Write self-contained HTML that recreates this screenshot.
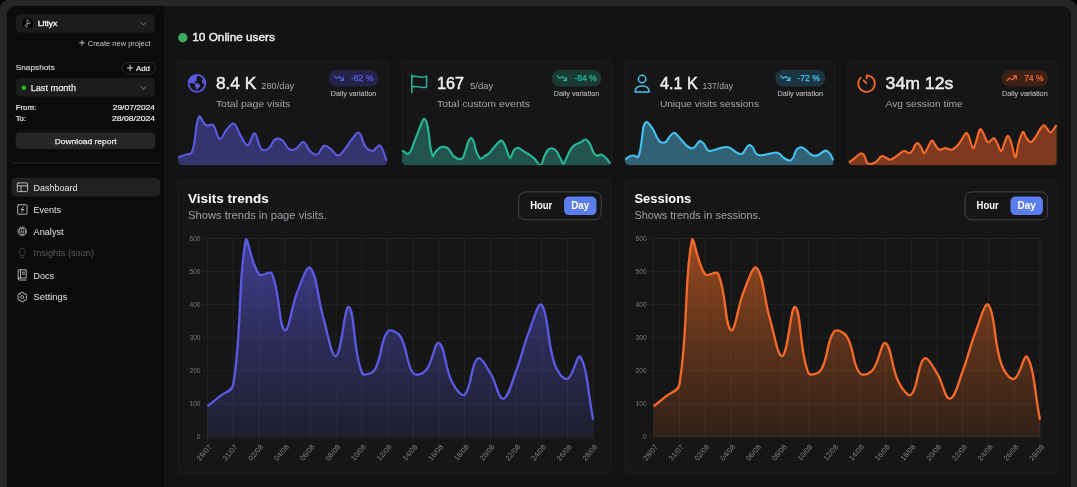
<!DOCTYPE html>
<html><head><meta charset="utf-8"><title>Litlyx Dashboard</title>
<style>
html,body{margin:0;padding:0;background:#000;width:1077px;height:487px;overflow:hidden}
svg{display:block;font-family:"Liberation Sans", sans-serif;will-change:transform}
</style></head><body>
<svg width="1077" height="487" viewBox="0 0 1077 487">
<defs><clipPath id="c0"><rect x="178.1" y="60.7" width="209.8" height="104.4" rx="4.5"/></clipPath><clipPath id="c1"><rect x="402.0" y="60.7" width="209.8" height="104.4" rx="4.5"/></clipPath><clipPath id="c2"><rect x="625.0" y="60.7" width="209.8" height="104.4" rx="4.5"/></clipPath><clipPath id="c3"><rect x="848.0" y="60.7" width="209.8" height="104.4" rx="4.5"/></clipPath></defs>
<path d="M0 7 Q1.5 1.5 7 0 H1070 Q1075.5 1.5 1077 7 V487 H0Z" fill="#262626"/>
<path d="M7 16 Q7 6 17 6 H1061 Q1071 6 1071 16 V487 H7Z" fill="#131313"/>
<path d="M7 16 Q7 6 17 6 H164.1 V487 H7Z" fill="#0b0b0b"/>
<rect x="16" y="14.3" width="138.8" height="18.3" fill="#1c1c1c" rx="4"/>
<circle cx="27.7" cy="23.6" r="5.5" fill="#000"/>
<path d="M27.5 19.5 L30.4 23.3 L27.3 23.5 Z M27.3 23.5 L24.5 25.5 L26.5 27.5 Z" fill="none" stroke="#b8b8b8" stroke-width="0.65" stroke-linecap="round" stroke-linejoin="round"/>
<text x="37.7" y="25.9" font-size="8" fill="#ececec" stroke="#ececec" stroke-width="0.35" textLength="19.7" lengthAdjust="spacingAndGlyphs">Litlyx</text>
<path d="M141.2 22.7 L143.4 25.1 L145.6 22.7" fill="none" stroke="#7b808e" stroke-width="1" stroke-linecap="round" stroke-linejoin="round"/>
<path d="M82 40.5 V45.1 M79.7 42.8 H84.3" fill="none" stroke="#cfcfcf" stroke-width="0.85" stroke-linecap="round" stroke-linejoin="round"/>
<text x="87.8" y="45.5" font-size="7" fill="#c9c9c9" textLength="62.8" lengthAdjust="spacingAndGlyphs">Create new project</text>
<text x="15.7" y="70.3" font-size="7.8" fill="#dcdcdc" stroke="#dcdcdc" stroke-width="0.15" textLength="39.1" lengthAdjust="spacingAndGlyphs">Snapshots</text>
<rect x="122" y="62.4" width="33.5" height="11.6" fill="none" rx="5.8" stroke="#2e2e2e" stroke-width="0.9"/>
<path d="M130.1 65.2 V70.6 M127.4 67.9 H132.8" fill="none" stroke="#e0e0e0" stroke-width="0.9" stroke-linecap="round" stroke-linejoin="round"/>
<text x="135.9" y="70.7" font-size="8" fill="#ececec" stroke="#ececec" stroke-width="0.2" textLength="14.1" lengthAdjust="spacingAndGlyphs">Add</text>
<rect x="16.2" y="78" width="138.9" height="18.6" fill="#1c1c1c" rx="4"/>
<circle cx="23.9" cy="87.7" r="2.3" fill="#19c21b"/>
<text x="30.7" y="91" font-size="9" fill="#e6e6e6" stroke="#e6e6e6" stroke-width="0.25" textLength="45.3" lengthAdjust="spacingAndGlyphs">Last month</text>
<path d="M141.2 86.8 L143.4 89.3 L145.6 86.8" fill="none" stroke="#7b808e" stroke-width="1" stroke-linecap="round" stroke-linejoin="round"/>
<text x="15.7" y="109.7" font-size="8" fill="#ededed" stroke="#ededed" stroke-width="0.2" textLength="20.5" lengthAdjust="spacingAndGlyphs">From:</text>
<text x="155.1" y="109.7" font-size="8" fill="#ededed" stroke="#ededed" stroke-width="0.2" textLength="42.4" lengthAdjust="spacingAndGlyphs" text-anchor="end">29/07/2024</text>
<text x="15.7" y="120.7" font-size="8" fill="#ededed" stroke="#ededed" stroke-width="0.2" textLength="10.4" lengthAdjust="spacingAndGlyphs">To:</text>
<text x="155.1" y="120.7" font-size="8" fill="#ededed" stroke="#ededed" stroke-width="0.2" textLength="43.1" lengthAdjust="spacingAndGlyphs" text-anchor="end">28/08/2024</text>
<rect x="15.7" y="132.4" width="139.7" height="16.5" fill="#262626" rx="4"/>
<text x="54.7" y="143.5" font-size="8" fill="#e3e3e3" stroke="#e3e3e3" stroke-width="0.25" textLength="61.9" lengthAdjust="spacingAndGlyphs">Download report</text>
<rect x="11.1" y="162" width="148.6" height="1.8" fill="#1a1a1a"/>
<rect x="11.4" y="177.4" width="148.6" height="19.2" fill="#212121" rx="5"/>
<text x="33.6" y="190.9" font-size="9.4" fill="#e6e6e6" textLength="43.9" lengthAdjust="spacingAndGlyphs">Dashboard</text>
<text x="33.6" y="212.7" font-size="9.4" fill="#e6e6e6" textLength="27.4" lengthAdjust="spacingAndGlyphs">Events</text>
<text x="33.6" y="234.5" font-size="9.4" fill="#e6e6e6" textLength="30" lengthAdjust="spacingAndGlyphs">Analyst</text>
<text x="33.6" y="256.3" font-size="9.4" fill="#5c5c5c" textLength="60.4" lengthAdjust="spacingAndGlyphs">Insights (soon)</text>
<text x="33.6" y="278.6" font-size="9.4" fill="#e6e6e6" textLength="20.4" lengthAdjust="spacingAndGlyphs">Docs</text>
<text x="33.6" y="300.4" font-size="9.4" fill="#e6e6e6" textLength="33.8" lengthAdjust="spacingAndGlyphs">Settings</text>
<path d="M18.2 182.9 h8.4 a0.9 0.9 0 0 1 0.9 0.9 v6.9 a0.9 0.9 0 0 1 -0.9 0.9 h-8.4 a0.9 0.9 0 0 1 -0.9 -0.9 v-6.9 a0.9 0.9 0 0 1 0.9 -0.9z M17.3 185.9 H27.5 M21 185.9 V191.6" fill="none" stroke="#cfcfcf" stroke-width="0.85" stroke-linecap="round" stroke-linejoin="round"/>
<path d="M18.6 204.8 h7.6 a0.9 0.9 0 0 1 0.9 0.9 v7.6 a0.9 0.9 0 0 1 -0.9 0.9 h-7.6 a0.9 0.9 0 0 1 -0.9 -0.9 v-7.6 a0.9 0.9 0 0 1 0.9 -0.9z M23.4 206.8 L21 209.6 H23.8 L21.4 212.3" fill="none" stroke="#cfcfcf" stroke-width="0.85" stroke-linecap="round" stroke-linejoin="round"/>
<path d="M19.9 228.3 h4.8 a0.7 0.7 0 0 1 0.7 0.7 v4.8 a0.7 0.7 0 0 1 -0.7 0.7 h-4.8 a0.7 0.7 0 0 1 -0.7 -0.7 v-4.8 a0.7 0.7 0 0 1 0.7 -0.7z M20.8 227 v1.3 M22.3 227 v1.3 M23.8 227 v1.3 M20.8 234.5 v1.3 M22.3 234.5 v1.3 M23.8 234.5 v1.3 M17.9 229.9 h1.3 M17.9 231.4 h1.3 M17.9 232.9 h1.3 M25.4 229.9 h1.3 M25.4 231.4 h1.3 M25.4 232.9 h1.3" fill="none" stroke="#cfcfcf" stroke-width="0.65" stroke-linecap="round" stroke-linejoin="round"/>
<path d="M20.8 233 L21.7 229.7 L22.6 233 M21.1 232 H22.3 M23.6 229.7 V233" fill="none" stroke="#cfcfcf" stroke-width="0.5" stroke-linecap="round" stroke-linejoin="round"/>
<path d="M20.6 254.4 A3.2 3.2 0 1 1 24 254.4 V255.7 H20.6 Z M21 257.5 H23.6" fill="none" stroke="#4a4a4a" stroke-width="0.8" stroke-linecap="round" stroke-linejoin="round"/>
<path d="M18.2 278.6 v-8 a0.8 0.8 0 0 1 0.8 -0.8 h7.2 v8.2 h-7 a1 1 0 0 0 0 2 h7 M20.5 269.8 v8.2 M22.2 272.2 h2.4 M22.2 274.2 h2.4" fill="none" stroke="#cfcfcf" stroke-width="0.85" stroke-linecap="round" stroke-linejoin="round"/>
<path d="M20.13 294.03 L21.12 292.42 L23.28 292.42 L24.27 294.03 L23.82 293.77 L25.71 293.83 L26.79 295.70 L25.89 297.36 L25.89 296.84 L26.79 298.50 L25.71 300.37 L23.82 300.43 L24.27 300.17 L23.28 301.78 L21.12 301.78 L20.13 300.17 L20.58 300.43 L18.69 300.37 L17.61 298.50 L18.51 296.84 L18.51 297.36 L17.61 295.70 L18.69 293.83 L20.58 293.77Z" fill="none" stroke="#cfcfcf" stroke-width="0.8" stroke-linecap="round" stroke-linejoin="round"/>
<circle cx="22.2" cy="297.1" r="1.5" fill="none" stroke="#cfcfcf" stroke-width="0.8"/>
<circle cx="182.8" cy="37.7" r="4.7" fill="#3daa60"/>
<text x="192.3" y="41.3" font-size="11.4" fill="#f2f2f2" stroke="#f2f2f2" stroke-width="0.4" textLength="82.6" lengthAdjust="spacingAndGlyphs">10 Online users</text>
<rect x="178.1" y="60.7" width="209.8" height="104.4" fill="#161616" rx="4.5" stroke="#1f1f1f" stroke-width="1"/>
<rect x="402.0" y="60.7" width="209.8" height="104.4" fill="#161616" rx="4.5" stroke="#1f1f1f" stroke-width="1"/>
<rect x="625.0" y="60.7" width="209.8" height="104.4" fill="#161616" rx="4.5" stroke="#1f1f1f" stroke-width="1"/>
<rect x="848.0" y="60.7" width="209.8" height="104.4" fill="#161616" rx="4.5" stroke="#1f1f1f" stroke-width="1"/>
<path d="M178.1 157.39 C180.88 156.39 182.29 155.94 185.05 154.89 C187.85 153.84 191.05 154.77 192.01 152.15 C196.62 139.47 194.7 124.91 198.96 116.64 C200.26 114.12 202.5 123.14 205.91 125.2 C208.07 126.49 211.14 123.34 212.87 125.03 C216.7 128.8 216.66 137.84 219.82 138.83 C222.22 139.59 223.63 132.82 226.77 129.39 C229.19 126.76 231.54 122.67 233.73 123.66 C237.1 125.19 237.66 131.03 240.68 135.69 C243.23 139.62 245.08 145.59 247.63 145.13 C250.64 144.59 252.13 132.47 254.59 133.18 C257.69 134.09 257.57 144.78 261.54 149.16 C263.13 150.92 266.4 150.01 268.49 148.52 C271.97 146.04 271.99 141.27 275.45 139.24 C277.55 138.01 280.27 138.82 282.4 140.37 C285.83 142.86 285.91 147.29 289.35 149.32 C291.47 150.58 293.96 149.84 296.31 148.6 C299.53 146.9 300.75 141.49 303.26 141.98 C306.31 142.58 306.86 148.3 310.21 151.34 C312.42 153.34 314.91 155.47 317.17 154.57 C320.47 153.25 320.84 147.01 324.12 145.77 C326.4 144.91 328.54 147.54 331.07 149.32 C334.1 151.45 335.29 155.63 338.03 155.54 C340.86 155.44 342.48 151.77 344.98 148.84 C348.05 145.25 348.85 142.81 351.93 139.24 C354.41 136.36 356.81 131.52 358.89 132.7 C362.37 134.68 362.1 142.31 365.84 147.15 C367.66 149.5 370.17 151.03 372.79 150.7 C375.73 150.32 377.84 144 379.75 145.37 C383.41 148 383.92 154.57 386.7 160.7 L386.7 165.2 L178.1 165.2Z" fill="#35346e" clip-path="url(#c0)"/>
<path d="M178.1 157.39 C180.88 156.39 182.29 155.94 185.05 154.89 C187.85 153.84 191.05 154.77 192.01 152.15 C196.62 139.47 194.7 124.91 198.96 116.64 C200.26 114.12 202.5 123.14 205.91 125.2 C208.07 126.49 211.14 123.34 212.87 125.03 C216.7 128.8 216.66 137.84 219.82 138.83 C222.22 139.59 223.63 132.82 226.77 129.39 C229.19 126.76 231.54 122.67 233.73 123.66 C237.1 125.19 237.66 131.03 240.68 135.69 C243.23 139.62 245.08 145.59 247.63 145.13 C250.64 144.59 252.13 132.47 254.59 133.18 C257.69 134.09 257.57 144.78 261.54 149.16 C263.13 150.92 266.4 150.01 268.49 148.52 C271.97 146.04 271.99 141.27 275.45 139.24 C277.55 138.01 280.27 138.82 282.4 140.37 C285.83 142.86 285.91 147.29 289.35 149.32 C291.47 150.58 293.96 149.84 296.31 148.6 C299.53 146.9 300.75 141.49 303.26 141.98 C306.31 142.58 306.86 148.3 310.21 151.34 C312.42 153.34 314.91 155.47 317.17 154.57 C320.47 153.25 320.84 147.01 324.12 145.77 C326.4 144.91 328.54 147.54 331.07 149.32 C334.1 151.45 335.29 155.63 338.03 155.54 C340.86 155.44 342.48 151.77 344.98 148.84 C348.05 145.25 348.85 142.81 351.93 139.24 C354.41 136.36 356.81 131.52 358.89 132.7 C362.37 134.68 362.1 142.31 365.84 147.15 C367.66 149.5 370.17 151.03 372.79 150.7 C375.73 150.32 377.84 144 379.75 145.37 C383.41 148 383.92 154.57 386.7 160.7" fill="none" stroke="#5a5ae2" stroke-width="2.1" clip-path="url(#c0)"/>
<path d="M402 150.3 C402.4 150.57 403.43 151.3 404.4 151.9 C405.37 152.5 406.68 154.17 407.8 153.9 C408.92 153.63 410 152.38 411.1 150.3 C412.2 148.22 413.3 144.27 414.4 141.4 C415.5 138.53 416.58 135.97 417.7 133.1 C418.82 130.23 420.02 126.6 421.1 124.2 C422.18 121.8 423.18 118.7 424.2 118.7 C425.22 118.7 426.38 121.25 427.2 124.2 C428.02 127.15 428.55 132.52 429.1 136.4 C429.65 140.28 429.87 144.22 430.5 147.5 C431.13 150.78 432.07 155.37 432.9 156.1 C433.73 156.83 434.42 153.25 435.5 151.9 C436.58 150.55 437.92 148.83 439.4 148 C440.88 147.17 442.83 146.7 444.4 146.9 C445.97 147.1 447.33 147.72 448.8 149.2 C450.27 150.68 451.72 154.23 453.2 155.8 C454.68 157.37 456.57 158.03 457.7 158.6 C458.83 159.17 459.07 159.48 460 159.2 C460.93 158.92 462.28 158.67 463.3 156.9 C464.32 155.13 465.17 151.37 466.1 148.6 C467.03 145.83 468.02 142.05 468.9 140.3 C469.78 138.55 470.57 137.82 471.4 138.1 C472.23 138.38 473.12 139.88 473.9 142 C474.68 144.12 475 148.03 476.1 150.8 C477.2 153.57 479.02 157.77 480.5 158.6 C481.98 159.43 483.52 156.72 485 155.8 C486.48 154.88 487.93 154.48 489.4 153.1 C490.87 151.72 491.87 149.58 493.8 147.5 C495.73 145.42 499.15 140.97 501 140.6 C502.85 140.23 503.42 142.45 504.9 145.3 C506.38 148.15 508.42 156.87 509.9 157.7 C511.38 158.53 512.42 151.97 513.8 150.3 C515.18 148.63 516.53 147.52 518.2 147.7 C519.87 147.88 521.77 150.13 523.8 151.4 C525.83 152.67 528.63 154.12 530.4 155.3 C532.17 156.48 532.72 156.85 534.4 158.5 C536.08 160.15 538.83 165.57 540.5 165.2 C542.17 164.83 543.2 158.8 544.4 156.3 C545.6 153.8 546.4 151.53 547.7 150.2 C549 148.87 550.72 148.12 552.2 148.3 C553.68 148.48 555.22 149.6 556.6 151.3 C557.98 153 559.3 156.45 560.5 158.5 C561.7 160.55 562.6 164.15 563.8 163.6 C565 163.05 566.32 157.88 567.7 155.2 C569.08 152.52 570.63 149.35 572.1 147.5 C573.57 145.65 575.02 145 576.5 144.1 C577.98 143.2 579.52 142.87 581 142.1 C582.48 141.33 583.93 139.25 585.4 139.5 C586.87 139.75 588.5 141.53 589.8 143.6 C591.1 145.67 592.08 149.87 593.2 151.9 C594.32 153.93 595.12 155.33 596.5 155.8 C597.88 156.27 599.83 154.25 601.5 154.7 C603.17 155.15 605.12 157.12 606.5 158.5 C607.88 159.88 609.13 162.17 609.8 163 C610.47 163.83 610.38 163.42 610.5 163.5 L610.5 165.2 L402 165.2Z" fill="#22544d" clip-path="url(#c1)"/>
<path d="M402 150.3 C402.4 150.57 403.43 151.3 404.4 151.9 C405.37 152.5 406.68 154.17 407.8 153.9 C408.92 153.63 410 152.38 411.1 150.3 C412.2 148.22 413.3 144.27 414.4 141.4 C415.5 138.53 416.58 135.97 417.7 133.1 C418.82 130.23 420.02 126.6 421.1 124.2 C422.18 121.8 423.18 118.7 424.2 118.7 C425.22 118.7 426.38 121.25 427.2 124.2 C428.02 127.15 428.55 132.52 429.1 136.4 C429.65 140.28 429.87 144.22 430.5 147.5 C431.13 150.78 432.07 155.37 432.9 156.1 C433.73 156.83 434.42 153.25 435.5 151.9 C436.58 150.55 437.92 148.83 439.4 148 C440.88 147.17 442.83 146.7 444.4 146.9 C445.97 147.1 447.33 147.72 448.8 149.2 C450.27 150.68 451.72 154.23 453.2 155.8 C454.68 157.37 456.57 158.03 457.7 158.6 C458.83 159.17 459.07 159.48 460 159.2 C460.93 158.92 462.28 158.67 463.3 156.9 C464.32 155.13 465.17 151.37 466.1 148.6 C467.03 145.83 468.02 142.05 468.9 140.3 C469.78 138.55 470.57 137.82 471.4 138.1 C472.23 138.38 473.12 139.88 473.9 142 C474.68 144.12 475 148.03 476.1 150.8 C477.2 153.57 479.02 157.77 480.5 158.6 C481.98 159.43 483.52 156.72 485 155.8 C486.48 154.88 487.93 154.48 489.4 153.1 C490.87 151.72 491.87 149.58 493.8 147.5 C495.73 145.42 499.15 140.97 501 140.6 C502.85 140.23 503.42 142.45 504.9 145.3 C506.38 148.15 508.42 156.87 509.9 157.7 C511.38 158.53 512.42 151.97 513.8 150.3 C515.18 148.63 516.53 147.52 518.2 147.7 C519.87 147.88 521.77 150.13 523.8 151.4 C525.83 152.67 528.63 154.12 530.4 155.3 C532.17 156.48 532.72 156.85 534.4 158.5 C536.08 160.15 538.83 165.57 540.5 165.2 C542.17 164.83 543.2 158.8 544.4 156.3 C545.6 153.8 546.4 151.53 547.7 150.2 C549 148.87 550.72 148.12 552.2 148.3 C553.68 148.48 555.22 149.6 556.6 151.3 C557.98 153 559.3 156.45 560.5 158.5 C561.7 160.55 562.6 164.15 563.8 163.6 C565 163.05 566.32 157.88 567.7 155.2 C569.08 152.52 570.63 149.35 572.1 147.5 C573.57 145.65 575.02 145 576.5 144.1 C577.98 143.2 579.52 142.87 581 142.1 C582.48 141.33 583.93 139.25 585.4 139.5 C586.87 139.75 588.5 141.53 589.8 143.6 C591.1 145.67 592.08 149.87 593.2 151.9 C594.32 153.93 595.12 155.33 596.5 155.8 C597.88 156.27 599.83 154.25 601.5 154.7 C603.17 155.15 605.12 157.12 606.5 158.5 C607.88 159.88 609.13 162.17 609.8 163 C610.47 163.83 610.38 163.42 610.5 163.5" fill="none" stroke="#26b89b" stroke-width="2.1" clip-path="url(#c1)"/>
<path d="M625.1 159.7 C625.7 159.23 627.47 157.6 628.7 156.9 C629.93 156.2 631.3 155.58 632.5 155.5 C633.7 155.42 634.97 156.17 635.9 156.4 C636.83 156.63 637.37 158.02 638.1 156.9 C638.83 155.78 639.65 152.93 640.3 149.7 C640.95 146.47 641.45 141.38 642 137.5 C642.55 133.62 642.83 128.98 643.6 126.4 C644.37 123.82 645.58 122.27 646.6 122 C647.62 121.73 648.53 123.42 649.7 124.8 C650.87 126.18 652.38 128.18 653.6 130.3 C654.82 132.42 655.98 135.65 657 137.5 C658.02 139.35 658.68 140.52 659.7 141.4 C660.72 142.28 661.98 142.8 663.1 142.8 C664.22 142.8 665.3 142.47 666.4 141.4 C667.5 140.33 668.5 137.82 669.7 136.4 C670.9 134.98 672.48 133.27 673.6 132.9 C674.72 132.53 675.2 133.15 676.4 134.2 C677.6 135.25 679.33 137.53 680.8 139.2 C682.27 140.87 683.9 142.9 685.2 144.2 C686.5 145.5 687.48 146.3 688.6 147 C689.72 147.7 690.8 148.5 691.9 148.4 C693 148.3 694.08 147.47 695.2 146.4 C696.32 145.33 697.67 142.88 698.6 142 C699.53 141.12 699.88 140.73 700.8 141.1 C701.72 141.47 703.08 142.85 704.1 144.2 C705.12 145.55 705.88 148.05 706.9 149.2 C707.92 150.35 708.72 151.05 710.2 151.1 C711.68 151.15 713.95 150.07 715.8 149.5 C717.65 148.93 719.37 148.12 721.3 147.7 C723.23 147.28 725.73 146.85 727.4 147 C729.07 147.15 729.92 147.77 731.3 148.6 C732.68 149.43 734.03 151.07 735.7 152 C737.37 152.93 739.82 154.4 741.3 154.2 C742.78 154 743.58 152.1 744.6 150.8 C745.62 149.5 746.52 147.35 747.4 146.4 C748.28 145.45 748.98 144.92 749.9 145.1 C750.82 145.28 751.93 146.17 752.9 147.5 C753.87 148.83 754.58 151.8 755.7 153.1 C756.82 154.4 758.12 155.03 759.6 155.3 C761.08 155.57 762.85 154.98 764.6 154.7 C766.35 154.42 768.18 153.97 770.1 153.6 C772.02 153.23 774.45 152.4 776.1 152.5 C777.75 152.6 778.7 153.28 780 154.2 C781.3 155.12 782.28 156.93 783.9 158 C785.52 159.07 788.13 160.68 789.7 160.6 C791.27 160.52 792.23 159.22 793.3 157.5 C794.37 155.78 794.9 152 796.1 150.3 C797.3 148.6 798.93 147.43 800.5 147.3 C802.07 147.17 803.93 148.45 805.5 149.5 C807.07 150.55 808.42 152.55 809.9 153.6 C811.38 154.65 812.92 155.62 814.4 155.8 C815.88 155.98 817.42 155.33 818.8 154.7 C820.18 154.07 821.5 152.68 822.7 152 C823.9 151.32 824.9 150.42 826 150.6 C827.1 150.78 828.37 152.13 829.3 153.1 C830.23 154.07 830.95 155.2 831.6 156.4 C832.25 157.6 832.93 159.65 833.2 160.3 L833.2 165.2 L625.1 165.2Z" fill="#306175" clip-path="url(#c2)"/>
<path d="M625.1 159.7 C625.7 159.23 627.47 157.6 628.7 156.9 C629.93 156.2 631.3 155.58 632.5 155.5 C633.7 155.42 634.97 156.17 635.9 156.4 C636.83 156.63 637.37 158.02 638.1 156.9 C638.83 155.78 639.65 152.93 640.3 149.7 C640.95 146.47 641.45 141.38 642 137.5 C642.55 133.62 642.83 128.98 643.6 126.4 C644.37 123.82 645.58 122.27 646.6 122 C647.62 121.73 648.53 123.42 649.7 124.8 C650.87 126.18 652.38 128.18 653.6 130.3 C654.82 132.42 655.98 135.65 657 137.5 C658.02 139.35 658.68 140.52 659.7 141.4 C660.72 142.28 661.98 142.8 663.1 142.8 C664.22 142.8 665.3 142.47 666.4 141.4 C667.5 140.33 668.5 137.82 669.7 136.4 C670.9 134.98 672.48 133.27 673.6 132.9 C674.72 132.53 675.2 133.15 676.4 134.2 C677.6 135.25 679.33 137.53 680.8 139.2 C682.27 140.87 683.9 142.9 685.2 144.2 C686.5 145.5 687.48 146.3 688.6 147 C689.72 147.7 690.8 148.5 691.9 148.4 C693 148.3 694.08 147.47 695.2 146.4 C696.32 145.33 697.67 142.88 698.6 142 C699.53 141.12 699.88 140.73 700.8 141.1 C701.72 141.47 703.08 142.85 704.1 144.2 C705.12 145.55 705.88 148.05 706.9 149.2 C707.92 150.35 708.72 151.05 710.2 151.1 C711.68 151.15 713.95 150.07 715.8 149.5 C717.65 148.93 719.37 148.12 721.3 147.7 C723.23 147.28 725.73 146.85 727.4 147 C729.07 147.15 729.92 147.77 731.3 148.6 C732.68 149.43 734.03 151.07 735.7 152 C737.37 152.93 739.82 154.4 741.3 154.2 C742.78 154 743.58 152.1 744.6 150.8 C745.62 149.5 746.52 147.35 747.4 146.4 C748.28 145.45 748.98 144.92 749.9 145.1 C750.82 145.28 751.93 146.17 752.9 147.5 C753.87 148.83 754.58 151.8 755.7 153.1 C756.82 154.4 758.12 155.03 759.6 155.3 C761.08 155.57 762.85 154.98 764.6 154.7 C766.35 154.42 768.18 153.97 770.1 153.6 C772.02 153.23 774.45 152.4 776.1 152.5 C777.75 152.6 778.7 153.28 780 154.2 C781.3 155.12 782.28 156.93 783.9 158 C785.52 159.07 788.13 160.68 789.7 160.6 C791.27 160.52 792.23 159.22 793.3 157.5 C794.37 155.78 794.9 152 796.1 150.3 C797.3 148.6 798.93 147.43 800.5 147.3 C802.07 147.17 803.93 148.45 805.5 149.5 C807.07 150.55 808.42 152.55 809.9 153.6 C811.38 154.65 812.92 155.62 814.4 155.8 C815.88 155.98 817.42 155.33 818.8 154.7 C820.18 154.07 821.5 152.68 822.7 152 C823.9 151.32 824.9 150.42 826 150.6 C827.1 150.78 828.37 152.13 829.3 153.1 C830.23 154.07 830.95 155.2 831.6 156.4 C832.25 157.6 832.93 159.65 833.2 160.3" fill="none" stroke="#45c1ef" stroke-width="2.1" clip-path="url(#c2)"/>
<path d="M848.9 162.5 C849.55 162.03 851.6 160.63 852.8 159.7 C854 158.77 854.72 157.97 856.1 156.9 C857.48 155.83 859.72 153.48 861.1 153.3 C862.48 153.12 863.48 154.37 864.4 155.8 C865.32 157.23 865.85 160.55 866.6 161.9 C867.35 163.25 867.78 163.67 868.9 163.9 C870.02 164.13 871.92 163.82 873.3 163.3 C874.68 162.78 876 161.87 877.2 160.8 C878.4 159.73 879.48 157.67 880.5 156.9 C881.52 156.13 882.28 156.02 883.3 156.2 C884.32 156.38 885.5 157.42 886.6 158 C887.7 158.58 888.7 159.7 889.9 159.7 C891.1 159.7 892.4 158.83 893.8 158 C895.2 157.17 896.82 155.8 898.3 154.7 C899.78 153.6 901.6 152 902.7 151.4 C903.8 150.8 903.78 150.82 904.9 151.1 C906.02 151.38 908.1 153.23 909.4 153.1 C910.7 152.97 911.78 151.6 912.7 150.3 C913.62 149 914.07 146.5 914.9 145.3 C915.73 144.1 916.68 142.82 917.7 143.1 C918.72 143.38 920.25 145.9 921 147 C921.75 148.1 921.63 148.65 922.2 149.7 C922.77 150.75 923.47 153.67 924.4 153.3 C925.33 152.93 926.53 149.62 927.8 147.5 C929.07 145.38 930.72 140.97 932 140.6 C933.28 140.23 934.27 143.78 935.5 145.3 C936.73 146.82 937.73 149.23 939.4 149.7 C941.07 150.17 943.47 148.1 945.5 148.1 C947.53 148.1 949.57 150.17 951.6 149.7 C953.63 149.23 955.93 147.15 957.7 145.3 C959.47 143.45 960.82 140.67 962.2 138.6 C963.58 136.53 964.9 133.27 966 132.9 C967.1 132.53 967.87 134.33 968.8 136.4 C969.73 138.47 970.77 143.35 971.6 145.3 C972.43 147.25 972.97 149.03 973.8 148.1 C974.63 147.17 975.77 142.38 976.6 139.7 C977.43 137.02 978.1 133.75 978.8 132 C979.5 130.25 979.97 128.83 980.8 129.2 C981.63 129.57 982.83 132.3 983.8 134.2 C984.77 136.1 985.77 139.27 986.6 140.6 C987.43 141.93 987.6 142.62 988.8 142.2 C990 141.78 992.4 137.95 993.8 138.1 C995.2 138.25 995.98 140.88 997.2 143.1 C998.42 145.32 999.9 151.4 1001.1 151.4 C1002.3 151.4 1003.28 145.68 1004.4 143.1 C1005.52 140.52 1006.68 136.08 1007.8 135.9 C1008.92 135.72 1009.85 138.43 1011.1 142 C1012.35 145.57 1014.1 156.93 1015.3 157.3 C1016.5 157.67 1017.07 148.42 1018.3 144.2 C1019.53 139.98 1021.4 133.12 1022.7 132 C1024 130.88 1024.8 135.8 1026.1 137.5 C1027.4 139.2 1028.93 142.28 1030.5 142.2 C1032.07 142.12 1034.02 138.98 1035.5 137 C1036.98 135.02 1038.02 132.25 1039.4 130.3 C1040.78 128.35 1042.52 125.58 1043.8 125.3 C1045.08 125.02 1045.98 127.4 1047.1 128.6 C1048.22 129.8 1049.28 132.58 1050.5 132.5 C1051.72 132.42 1053.38 129.33 1054.4 128.1 C1055.42 126.87 1056.23 125.6 1056.6 125.1 L1056.6 165.2 L848.9 165.2Z" fill="#7e3a20" clip-path="url(#c3)"/>
<path d="M848.9 162.5 C849.55 162.03 851.6 160.63 852.8 159.7 C854 158.77 854.72 157.97 856.1 156.9 C857.48 155.83 859.72 153.48 861.1 153.3 C862.48 153.12 863.48 154.37 864.4 155.8 C865.32 157.23 865.85 160.55 866.6 161.9 C867.35 163.25 867.78 163.67 868.9 163.9 C870.02 164.13 871.92 163.82 873.3 163.3 C874.68 162.78 876 161.87 877.2 160.8 C878.4 159.73 879.48 157.67 880.5 156.9 C881.52 156.13 882.28 156.02 883.3 156.2 C884.32 156.38 885.5 157.42 886.6 158 C887.7 158.58 888.7 159.7 889.9 159.7 C891.1 159.7 892.4 158.83 893.8 158 C895.2 157.17 896.82 155.8 898.3 154.7 C899.78 153.6 901.6 152 902.7 151.4 C903.8 150.8 903.78 150.82 904.9 151.1 C906.02 151.38 908.1 153.23 909.4 153.1 C910.7 152.97 911.78 151.6 912.7 150.3 C913.62 149 914.07 146.5 914.9 145.3 C915.73 144.1 916.68 142.82 917.7 143.1 C918.72 143.38 920.25 145.9 921 147 C921.75 148.1 921.63 148.65 922.2 149.7 C922.77 150.75 923.47 153.67 924.4 153.3 C925.33 152.93 926.53 149.62 927.8 147.5 C929.07 145.38 930.72 140.97 932 140.6 C933.28 140.23 934.27 143.78 935.5 145.3 C936.73 146.82 937.73 149.23 939.4 149.7 C941.07 150.17 943.47 148.1 945.5 148.1 C947.53 148.1 949.57 150.17 951.6 149.7 C953.63 149.23 955.93 147.15 957.7 145.3 C959.47 143.45 960.82 140.67 962.2 138.6 C963.58 136.53 964.9 133.27 966 132.9 C967.1 132.53 967.87 134.33 968.8 136.4 C969.73 138.47 970.77 143.35 971.6 145.3 C972.43 147.25 972.97 149.03 973.8 148.1 C974.63 147.17 975.77 142.38 976.6 139.7 C977.43 137.02 978.1 133.75 978.8 132 C979.5 130.25 979.97 128.83 980.8 129.2 C981.63 129.57 982.83 132.3 983.8 134.2 C984.77 136.1 985.77 139.27 986.6 140.6 C987.43 141.93 987.6 142.62 988.8 142.2 C990 141.78 992.4 137.95 993.8 138.1 C995.2 138.25 995.98 140.88 997.2 143.1 C998.42 145.32 999.9 151.4 1001.1 151.4 C1002.3 151.4 1003.28 145.68 1004.4 143.1 C1005.52 140.52 1006.68 136.08 1007.8 135.9 C1008.92 135.72 1009.85 138.43 1011.1 142 C1012.35 145.57 1014.1 156.93 1015.3 157.3 C1016.5 157.67 1017.07 148.42 1018.3 144.2 C1019.53 139.98 1021.4 133.12 1022.7 132 C1024 130.88 1024.8 135.8 1026.1 137.5 C1027.4 139.2 1028.93 142.28 1030.5 142.2 C1032.07 142.12 1034.02 138.98 1035.5 137 C1036.98 135.02 1038.02 132.25 1039.4 130.3 C1040.78 128.35 1042.52 125.58 1043.8 125.3 C1045.08 125.02 1045.98 127.4 1047.1 128.6 C1048.22 129.8 1049.28 132.58 1050.5 132.5 C1051.72 132.42 1053.38 129.33 1054.4 128.1 C1055.42 126.87 1056.23 125.6 1056.6 125.1" fill="none" stroke="#f66a28" stroke-width="2.1" clip-path="url(#c3)"/>
<circle cx="196.95" cy="83.35" r="8.4" fill="none" stroke="#5a5ae2" stroke-width="1.75"/>
<path d="M188.67 82.58 L189.24 79.90 L190.75 77.53 L192.90 75.93 L195.28 75.24 L197.30 75.50 L197.00 77.31 L196.35 79.04 L197.00 80.42 L196.01 81.20 L194.63 81.41 L194.54 82.15 L195.92 83.01 L197.30 83.79 L196.35 84.30 L192.90 83.27 L188.80 83.01Z" fill="#5a5ae2"/>
<path d="M195.15 83.79 L198.94 83.70 L200.32 85.51 L199.46 87.24 L197.73 88.53 L196.87 89.91 L196.18 89.39 L195.84 87.45 L195.15 85.51Z" fill="#5a5ae2"/>
<path d="M203.26 78.26 L202.31 80.33 L202.05 82.15 L202.74 83.44 L204.33 84.13 L205.50 83.35 L205.41 80.77 L204.64 79.04Z" fill="#5a5ae2"/>
<path d="M411.8 74.9 V92.4 M411.8 76.9 C416 74.6 422 79.4 426.6 76 V86.8 C422.4 89.6 416.4 84.6 411.8 87.4" fill="none" stroke="#26b89b" stroke-width="1.5" stroke-linecap="round" stroke-linejoin="round"/>
<circle cx="642.1" cy="79.1" r="3.75" fill="none" stroke="#45c1ef" stroke-width="1.5"/>
<path d="M635.1 92 C635.1 88 637.8 85.9 642.1 85.9 C646.4 85.9 649.2 88 649.2 92Z" fill="none" stroke="#45c1ef" stroke-width="1.5" stroke-linecap="round" stroke-linejoin="round"/>
<path d="M866.6 75.3 A8.3 8.3 0 1 1 860.7 77.7 M866.6 75.3 V78.6 M863.6 80.4 L866.4 83.2" fill="none" stroke="#f66a28" stroke-width="1.7" stroke-linecap="round" stroke-linejoin="round"/>
<text x="215.9" y="89" font-size="17.4" fill="#ededed" stroke="#ededed" stroke-width="0.5" textLength="40.4" lengthAdjust="spacingAndGlyphs">8.4 K</text>
<text x="261.3" y="89" font-size="9" fill="#a8a8a8" textLength="32.9" lengthAdjust="spacingAndGlyphs">280/day</text>
<text x="215.9" y="106.6" font-size="9.8" fill="#a3a5aa" textLength="74.4" lengthAdjust="spacingAndGlyphs">Total page visits</text>
<text x="437" y="89.4" font-size="17.4" fill="#ededed" stroke="#ededed" stroke-width="0.5" textLength="27" lengthAdjust="spacingAndGlyphs">167</text>
<text x="470.1" y="89.4" font-size="9" fill="#a8a8a8" textLength="23.1" lengthAdjust="spacingAndGlyphs">5/day</text>
<text x="437" y="106.6" font-size="9.8" fill="#a3a5aa" textLength="93" lengthAdjust="spacingAndGlyphs">Total custom events</text>
<text x="660" y="89.4" font-size="17.4" fill="#ededed" stroke="#ededed" stroke-width="0.5" textLength="37.8" lengthAdjust="spacingAndGlyphs">4.1 K</text>
<text x="702.5" y="89.4" font-size="9" fill="#a8a8a8" textLength="30.5" lengthAdjust="spacingAndGlyphs">137/day</text>
<text x="660" y="106.6" font-size="9.8" fill="#a3a5aa" textLength="99" lengthAdjust="spacingAndGlyphs">Unique visits sessions</text>
<text x="885.6" y="89.4" font-size="17.4" fill="#ededed" stroke="#ededed" stroke-width="0.5" textLength="67.7" lengthAdjust="spacingAndGlyphs">34m 12s</text>
<text x="885.6" y="106.6" font-size="9.8" fill="#a3a5aa" textLength="77.2" lengthAdjust="spacingAndGlyphs">Avg session time</text>
<rect x="329" y="70.1" width="49.10000000000002" height="16.5" fill="#25234a" rx="7.5"/>
<text x="350.9" y="80.9" font-size="8.3" fill="#5a5ae2" stroke="#5a5ae2" stroke-width="0.25" textLength="22.700000000000045" lengthAdjust="spacingAndGlyphs">-82 %</text>
<path d="M334 75.8 l2.7 2.6 l2.7 -1.9 l3.9 3.8 M343.4 77.4 v3.1 h-3.1" fill="none" stroke="#5a5ae2" stroke-width="1.15" stroke-linecap="round" stroke-linejoin="round"/>
<text x="353.55" y="95.9" font-size="6.5" fill="#b4b7bd" stroke="#b4b7bd" stroke-width="0.1" textLength="45.6" lengthAdjust="spacingAndGlyphs" text-anchor="middle">Daily variation</text>
<rect x="552" y="70.1" width="49.10000000000002" height="16.5" fill="#1b3a33" rx="7.5"/>
<text x="574.5" y="80.9" font-size="8.3" fill="#26b89b" stroke="#26b89b" stroke-width="0.25" textLength="22.399999999999977" lengthAdjust="spacingAndGlyphs">-84 %</text>
<path d="M557 75.8 l2.7 2.6 l2.7 -1.9 l3.9 3.8 M566.4 77.4 v3.1 h-3.1" fill="none" stroke="#26b89b" stroke-width="1.15" stroke-linecap="round" stroke-linejoin="round"/>
<text x="576.55" y="95.9" font-size="6.5" fill="#b4b7bd" stroke="#b4b7bd" stroke-width="0.1" textLength="45.6" lengthAdjust="spacingAndGlyphs" text-anchor="middle">Daily variation</text>
<rect x="775.5" y="70.1" width="49.60000000000002" height="16.5" fill="#1d3540" rx="7.5"/>
<text x="797.5" y="80.9" font-size="8.3" fill="#45c1ef" stroke="#45c1ef" stroke-width="0.25" textLength="22.399999999999977" lengthAdjust="spacingAndGlyphs">-72 %</text>
<path d="M780.5 75.8 l2.7 2.6 l2.7 -1.9 l3.9 3.8 M789.9 77.4 v3.1 h-3.1" fill="none" stroke="#45c1ef" stroke-width="1.15" stroke-linecap="round" stroke-linejoin="round"/>
<text x="800.3" y="95.9" font-size="6.5" fill="#b4b7bd" stroke="#b4b7bd" stroke-width="0.1" textLength="45.6" lengthAdjust="spacingAndGlyphs" text-anchor="middle">Daily variation</text>
<rect x="1001.9" y="70.1" width="46.000000000000114" height="16.5" fill="#3d2016" rx="7.5"/>
<text x="1024.3" y="80.9" font-size="8.3" fill="#f66a28" stroke="#f66a28" stroke-width="0.25" textLength="19.0" lengthAdjust="spacingAndGlyphs">74 %</text>
<path d="M1006.9 80.6 l2.7 -2.6 l2.7 1.9 l3.9 -3.8 M1016.3 79.0 v-3.1 h-3.1" fill="none" stroke="#f66a28" stroke-width="1.15" stroke-linecap="round" stroke-linejoin="round"/>
<text x="1024.9" y="95.9" font-size="6.5" fill="#b4b7bd" stroke="#b4b7bd" stroke-width="0.1" textLength="45.6" lengthAdjust="spacingAndGlyphs" text-anchor="middle">Daily variation</text>
<rect x="178.0" y="179.8" width="432.4" height="293.4" fill="#161616" rx="4.5" stroke="#1f1f1f" stroke-width="1"/>
<rect x="625.0" y="179.8" width="432.4" height="293.4" fill="#161616" rx="4.5" stroke="#1f1f1f" stroke-width="1"/>
<text x="188" y="202.7" font-size="13.5" fill="#ffffff" font-weight="bold" textLength="80.8" lengthAdjust="spacingAndGlyphs">Visits trends</text>
<text x="188" y="219.2" font-size="10.5" fill="#9ba0aa" textLength="138.6" lengthAdjust="spacingAndGlyphs">Shows trends in page visits.</text>
<text x="634.4" y="202.7" font-size="13.5" fill="#ffffff" font-weight="bold" textLength="56.9" lengthAdjust="spacingAndGlyphs">Sessions</text>
<text x="634.4" y="219.3" font-size="10.5" fill="#9ba0aa" textLength="126.7" lengthAdjust="spacingAndGlyphs">Shows trends in sessions.</text>
<rect x="518.7" y="191.9" width="82.5" height="27.9" fill="none" rx="6.5" stroke="#454545" stroke-width="1"/>
<text x="530.2" y="209.2" font-size="10" fill="#ffffff" font-weight="bold" textLength="22.1" lengthAdjust="spacingAndGlyphs">Hour</text>
<rect x="564.1" y="196.6" width="32.4" height="18.5" fill="#5a7ef0" rx="5"/>
<text x="571.2" y="209.2" font-size="10" fill="#ffffff" font-weight="bold" textLength="18.2" lengthAdjust="spacingAndGlyphs">Day</text>
<rect x="965.1" y="191.9" width="82.5" height="27.9" fill="none" rx="6.5" stroke="#454545" stroke-width="1"/>
<text x="976.6" y="209.2" font-size="10" fill="#ffffff" font-weight="bold" textLength="22.1" lengthAdjust="spacingAndGlyphs">Hour</text>
<rect x="1010.5" y="196.6" width="32.4" height="18.5" fill="#5a7ef0" rx="5"/>
<text x="1017.6" y="209.2" font-size="10" fill="#ffffff" font-weight="bold" textLength="18.2" lengthAdjust="spacingAndGlyphs">Day</text>
<rect x="202.9" y="436.6" width="390.30000000000007" height="0.8" fill="#262626"/>
<text x="200.5" y="439.0" font-size="6.6" fill="#7a7a7a" text-anchor="end">0</text>
<rect x="202.9" y="403.5166666666667" width="390.30000000000007" height="0.8" fill="#262626"/>
<text x="200.5" y="405.9166666666667" font-size="6.6" fill="#7a7a7a" text-anchor="end">100</text>
<rect x="202.9" y="370.4333333333334" width="390.30000000000007" height="0.8" fill="#262626"/>
<text x="200.5" y="372.83333333333337" font-size="6.6" fill="#7a7a7a" text-anchor="end">200</text>
<rect x="202.9" y="337.35" width="390.30000000000007" height="0.8" fill="#262626"/>
<text x="200.5" y="339.75" font-size="6.6" fill="#7a7a7a" text-anchor="end">300</text>
<rect x="202.9" y="304.2666666666667" width="390.30000000000007" height="0.8" fill="#262626"/>
<text x="200.5" y="306.6666666666667" font-size="6.6" fill="#7a7a7a" text-anchor="end">400</text>
<rect x="202.9" y="271.1833333333334" width="390.30000000000007" height="0.8" fill="#262626"/>
<text x="200.5" y="273.58333333333337" font-size="6.6" fill="#7a7a7a" text-anchor="end">500</text>
<rect x="202.9" y="238.10000000000002" width="390.30000000000007" height="0.8" fill="#262626"/>
<text x="200.5" y="240.50000000000003" font-size="6.6" fill="#7a7a7a" text-anchor="end">600</text>
<rect x="207.1" y="238.5" width="0.8" height="203.3" fill="#262626"/>
<text font-size="7.4" fill="#808080" text-anchor="end" transform="translate(210.40,445.6) rotate(-49)" y="2.4">29/07</text>
<rect x="232.81333333333333" y="238.5" width="0.8" height="203.3" fill="#262626"/>
<text font-size="7.4" fill="#808080" text-anchor="end" transform="translate(236.11,445.6) rotate(-49)" y="2.4">31/07</text>
<rect x="258.5266666666667" y="238.5" width="0.8" height="203.3" fill="#262626"/>
<text font-size="7.4" fill="#808080" text-anchor="end" transform="translate(261.83,445.6) rotate(-49)" y="2.4">02/08</text>
<rect x="284.24" y="238.5" width="0.8" height="203.3" fill="#262626"/>
<text font-size="7.4" fill="#808080" text-anchor="end" transform="translate(287.54,445.6) rotate(-49)" y="2.4">04/08</text>
<rect x="309.9533333333334" y="238.5" width="0.8" height="203.3" fill="#262626"/>
<text font-size="7.4" fill="#808080" text-anchor="end" transform="translate(313.25,445.6) rotate(-49)" y="2.4">06/08</text>
<rect x="335.66666666666674" y="238.5" width="0.8" height="203.3" fill="#262626"/>
<text font-size="7.4" fill="#808080" text-anchor="end" transform="translate(338.97,445.6) rotate(-49)" y="2.4">08/08</text>
<rect x="361.38000000000005" y="238.5" width="0.8" height="203.3" fill="#262626"/>
<text font-size="7.4" fill="#808080" text-anchor="end" transform="translate(364.68,445.6) rotate(-49)" y="2.4">10/08</text>
<rect x="387.09333333333336" y="238.5" width="0.8" height="203.3" fill="#262626"/>
<text font-size="7.4" fill="#808080" text-anchor="end" transform="translate(390.39,445.6) rotate(-49)" y="2.4">12/08</text>
<rect x="412.80666666666673" y="238.5" width="0.8" height="203.3" fill="#262626"/>
<text font-size="7.4" fill="#808080" text-anchor="end" transform="translate(416.11,445.6) rotate(-49)" y="2.4">14/08</text>
<rect x="438.52000000000004" y="238.5" width="0.8" height="203.3" fill="#262626"/>
<text font-size="7.4" fill="#808080" text-anchor="end" transform="translate(441.82,445.6) rotate(-49)" y="2.4">16/08</text>
<rect x="464.2333333333334" y="238.5" width="0.8" height="203.3" fill="#262626"/>
<text font-size="7.4" fill="#808080" text-anchor="end" transform="translate(467.53,445.6) rotate(-49)" y="2.4">18/08</text>
<rect x="489.9466666666667" y="238.5" width="0.8" height="203.3" fill="#262626"/>
<text font-size="7.4" fill="#808080" text-anchor="end" transform="translate(493.25,445.6) rotate(-49)" y="2.4">20/08</text>
<rect x="515.6600000000001" y="238.5" width="0.8" height="203.3" fill="#262626"/>
<text font-size="7.4" fill="#808080" text-anchor="end" transform="translate(518.96,445.6) rotate(-49)" y="2.4">22/08</text>
<rect x="541.3733333333333" y="238.5" width="0.8" height="203.3" fill="#262626"/>
<text font-size="7.4" fill="#808080" text-anchor="end" transform="translate(544.67,445.6) rotate(-49)" y="2.4">24/08</text>
<rect x="567.0866666666667" y="238.5" width="0.8" height="203.3" fill="#262626"/>
<text font-size="7.4" fill="#808080" text-anchor="end" transform="translate(570.39,445.6) rotate(-49)" y="2.4">26/08</text>
<rect x="592.8000000000001" y="238.5" width="0.8" height="203.3" fill="#262626"/>
<text font-size="7.4" fill="#808080" text-anchor="end" transform="translate(596.10,445.6) rotate(-49)" y="2.4">28/08</text>
<defs><linearGradient id="g0" x1="0" y1="238.5" x2="0" y2="437.0" gradientUnits="userSpaceOnUse"><stop offset="0" stop-color="rgba(92,90,228,0.6)"/><stop offset="0.5" stop-color="rgba(92,90,228,0.33)"/><stop offset="1" stop-color="rgba(92,90,228,0.12)"/></linearGradient></defs>
<path d="M207.5 406.23 C212.64 402.13 215.31 400.2 220.36 395.98 C225.6 391.59 232.14 391.29 233.21 384.73 C242.42 328.57 237.88 274.36 246.07 239.16 C248.16 238.5 251.28 264 258.93 274.23 C261.56 277.76 269.92 269.51 271.78 273.57 C280.2 291.87 278.6 325.94 284.64 330.14 C288.89 333.09 291.29 306.45 297.5 291.43 C301.57 281.57 306.81 264.39 310.35 267.94 C317.1 274.71 317.5 297.69 323.21 317.24 C327.78 332.89 331.48 357.78 336.07 355.95 C341.76 353.67 344.49 304.13 348.92 306.98 C354.77 310.75 353.18 351.48 361.78 372.49 C363.47 376.62 372.1 373.85 374.64 369.84 C382.39 357.57 379.82 341.77 387.49 331.8 C390.1 328.4 397.68 332.13 400.35 336.43 C407.96 348.67 405.53 363.07 413.21 373.15 C415.81 376.57 422.92 373.85 426.06 370.17 C433.21 361.81 434.54 341.13 438.92 343.04 C444.83 345.63 444.71 367.24 451.78 381.42 C455 387.88 461.29 397.62 464.63 394.65 C471.57 388.49 470.67 364.3 477.49 358.59 C480.95 355.7 486.18 366.66 490.35 373.15 C496.47 382.68 498.22 399.01 503.2 398.62 C508.5 398.21 511.71 382.46 516.06 371.16 C522 355.73 522.93 347.2 528.92 331.8 C533.21 320.74 538.39 300.73 541.77 305 C548.67 313.7 546.84 341.87 554.63 364.22 C557.13 371.38 563.02 380.04 567.49 378.77 C573.31 377.13 577.43 352.29 580.34 356.94 C587.72 368.7 588.06 394.65 593.2 419.8 L593.2 437.0 L207.5 437.0Z" fill="url(#g0)"/>
<path d="M207.5 406.23 C212.64 402.13 215.31 400.2 220.36 395.98 C225.6 391.59 232.14 391.29 233.21 384.73 C242.42 328.57 237.88 274.36 246.07 239.16 C248.16 238.5 251.28 264 258.93 274.23 C261.56 277.76 269.92 269.51 271.78 273.57 C280.2 291.87 278.6 325.94 284.64 330.14 C288.89 333.09 291.29 306.45 297.5 291.43 C301.57 281.57 306.81 264.39 310.35 267.94 C317.1 274.71 317.5 297.69 323.21 317.24 C327.78 332.89 331.48 357.78 336.07 355.95 C341.76 353.67 344.49 304.13 348.92 306.98 C354.77 310.75 353.18 351.48 361.78 372.49 C363.47 376.62 372.1 373.85 374.64 369.84 C382.39 357.57 379.82 341.77 387.49 331.8 C390.1 328.4 397.68 332.13 400.35 336.43 C407.96 348.67 405.53 363.07 413.21 373.15 C415.81 376.57 422.92 373.85 426.06 370.17 C433.21 361.81 434.54 341.13 438.92 343.04 C444.83 345.63 444.71 367.24 451.78 381.42 C455 387.88 461.29 397.62 464.63 394.65 C471.57 388.49 470.67 364.3 477.49 358.59 C480.95 355.7 486.18 366.66 490.35 373.15 C496.47 382.68 498.22 399.01 503.2 398.62 C508.5 398.21 511.71 382.46 516.06 371.16 C522 355.73 522.93 347.2 528.92 331.8 C533.21 320.74 538.39 300.73 541.77 305 C548.67 313.7 546.84 341.87 554.63 364.22 C557.13 371.38 563.02 380.04 567.49 378.77 C573.31 377.13 577.43 352.29 580.34 356.94 C587.72 368.7 588.06 394.65 593.2 419.8" fill="none" stroke="#5a5ae2" stroke-width="2.3"/>
<rect x="649.0" y="436.6" width="391.0" height="0.8" fill="#262626"/>
<text x="646.6" y="439.0" font-size="6.6" fill="#7a7a7a" text-anchor="end">0</text>
<rect x="649.0" y="403.5166666666667" width="391.0" height="0.8" fill="#262626"/>
<text x="646.6" y="405.9166666666667" font-size="6.6" fill="#7a7a7a" text-anchor="end">100</text>
<rect x="649.0" y="370.4333333333334" width="391.0" height="0.8" fill="#262626"/>
<text x="646.6" y="372.83333333333337" font-size="6.6" fill="#7a7a7a" text-anchor="end">200</text>
<rect x="649.0" y="337.35" width="391.0" height="0.8" fill="#262626"/>
<text x="646.6" y="339.75" font-size="6.6" fill="#7a7a7a" text-anchor="end">300</text>
<rect x="649.0" y="304.2666666666667" width="391.0" height="0.8" fill="#262626"/>
<text x="646.6" y="306.6666666666667" font-size="6.6" fill="#7a7a7a" text-anchor="end">400</text>
<rect x="649.0" y="271.1833333333334" width="391.0" height="0.8" fill="#262626"/>
<text x="646.6" y="273.58333333333337" font-size="6.6" fill="#7a7a7a" text-anchor="end">500</text>
<rect x="649.0" y="238.10000000000002" width="391.0" height="0.8" fill="#262626"/>
<text x="646.6" y="240.50000000000003" font-size="6.6" fill="#7a7a7a" text-anchor="end">600</text>
<rect x="653.2" y="238.5" width="0.8" height="203.3" fill="#262626"/>
<text font-size="7.4" fill="#808080" text-anchor="end" transform="translate(656.50,445.6) rotate(-49)" y="2.4">29/07</text>
<rect x="678.96" y="238.5" width="0.8" height="203.3" fill="#262626"/>
<text font-size="7.4" fill="#808080" text-anchor="end" transform="translate(682.26,445.6) rotate(-49)" y="2.4">31/07</text>
<rect x="704.72" y="238.5" width="0.8" height="203.3" fill="#262626"/>
<text font-size="7.4" fill="#808080" text-anchor="end" transform="translate(708.02,445.6) rotate(-49)" y="2.4">02/08</text>
<rect x="730.48" y="238.5" width="0.8" height="203.3" fill="#262626"/>
<text font-size="7.4" fill="#808080" text-anchor="end" transform="translate(733.78,445.6) rotate(-49)" y="2.4">04/08</text>
<rect x="756.24" y="238.5" width="0.8" height="203.3" fill="#262626"/>
<text font-size="7.4" fill="#808080" text-anchor="end" transform="translate(759.54,445.6) rotate(-49)" y="2.4">06/08</text>
<rect x="782.0000000000001" y="238.5" width="0.8" height="203.3" fill="#262626"/>
<text font-size="7.4" fill="#808080" text-anchor="end" transform="translate(785.30,445.6) rotate(-49)" y="2.4">08/08</text>
<rect x="807.76" y="238.5" width="0.8" height="203.3" fill="#262626"/>
<text font-size="7.4" fill="#808080" text-anchor="end" transform="translate(811.06,445.6) rotate(-49)" y="2.4">10/08</text>
<rect x="833.5200000000001" y="238.5" width="0.8" height="203.3" fill="#262626"/>
<text font-size="7.4" fill="#808080" text-anchor="end" transform="translate(836.82,445.6) rotate(-49)" y="2.4">12/08</text>
<rect x="859.2800000000001" y="238.5" width="0.8" height="203.3" fill="#262626"/>
<text font-size="7.4" fill="#808080" text-anchor="end" transform="translate(862.58,445.6) rotate(-49)" y="2.4">14/08</text>
<rect x="885.0400000000001" y="238.5" width="0.8" height="203.3" fill="#262626"/>
<text font-size="7.4" fill="#808080" text-anchor="end" transform="translate(888.34,445.6) rotate(-49)" y="2.4">16/08</text>
<rect x="910.8000000000001" y="238.5" width="0.8" height="203.3" fill="#262626"/>
<text font-size="7.4" fill="#808080" text-anchor="end" transform="translate(914.10,445.6) rotate(-49)" y="2.4">18/08</text>
<rect x="936.5600000000001" y="238.5" width="0.8" height="203.3" fill="#262626"/>
<text font-size="7.4" fill="#808080" text-anchor="end" transform="translate(939.86,445.6) rotate(-49)" y="2.4">20/08</text>
<rect x="962.32" y="238.5" width="0.8" height="203.3" fill="#262626"/>
<text font-size="7.4" fill="#808080" text-anchor="end" transform="translate(965.62,445.6) rotate(-49)" y="2.4">22/08</text>
<rect x="988.08" y="238.5" width="0.8" height="203.3" fill="#262626"/>
<text font-size="7.4" fill="#808080" text-anchor="end" transform="translate(991.38,445.6) rotate(-49)" y="2.4">24/08</text>
<rect x="1013.84" y="238.5" width="0.8" height="203.3" fill="#262626"/>
<text font-size="7.4" fill="#808080" text-anchor="end" transform="translate(1017.14,445.6) rotate(-49)" y="2.4">26/08</text>
<rect x="1039.6" y="238.5" width="0.8" height="203.3" fill="#262626"/>
<text font-size="7.4" fill="#808080" text-anchor="end" transform="translate(1042.90,445.6) rotate(-49)" y="2.4">28/08</text>
<defs><linearGradient id="g1" x1="0" y1="238.5" x2="0" y2="437.0" gradientUnits="userSpaceOnUse"><stop offset="0" stop-color="rgba(242,109,38,0.6)"/><stop offset="0.5" stop-color="rgba(242,109,38,0.33)"/><stop offset="1" stop-color="rgba(242,109,38,0.12)"/></linearGradient></defs>
<path d="M653.6 406.23 C658.75 402.13 661.43 400.2 666.48 395.98 C671.73 391.59 678.28 391.3 679.36 384.73 C688.58 328.57 684.03 274.36 692.24 239.16 C694.34 238.5 697.46 264 705.12 274.23 C707.76 277.76 716.13 269.5 718 273.57 C726.43 291.87 724.83 325.94 730.88 330.14 C735.13 333.09 737.54 306.45 743.76 291.43 C747.84 281.57 753.09 264.39 756.64 267.94 C763.39 274.71 763.8 297.69 769.52 317.24 C774.1 332.89 777.8 357.78 782.4 355.95 C788.11 353.67 790.84 304.13 795.28 306.98 C801.14 310.75 799.55 351.48 808.16 372.49 C809.86 376.62 818.5 373.86 821.04 369.84 C828.8 357.58 826.23 341.76 833.92 331.8 C836.54 328.4 844.12 332.12 846.8 336.43 C854.42 348.66 851.99 363.07 859.68 373.15 C862.29 376.57 869.41 373.85 872.56 370.17 C879.71 361.81 881.05 341.13 885.44 343.04 C891.36 345.63 891.24 367.24 898.32 381.42 C901.55 387.89 907.85 397.62 911.2 394.65 C918.15 388.49 917.25 364.3 924.08 358.59 C927.55 355.7 932.79 366.66 936.96 373.15 C943.09 382.68 944.84 399.01 949.84 398.62 C955.15 398.21 958.36 382.46 962.72 371.16 C968.67 355.73 969.6 347.2 975.6 331.8 C979.91 320.74 985.09 300.73 988.48 305 C995.39 313.7 993.56 341.87 1001.36 364.22 C1003.86 371.38 1009.77 380.04 1014.24 378.77 C1020.07 377.13 1024.2 352.29 1027.12 356.94 C1034.51 368.7 1034.85 394.65 1040 419.8 L1040 437.0 L653.6 437.0Z" fill="url(#g1)"/>
<path d="M653.6 406.23 C658.75 402.13 661.43 400.2 666.48 395.98 C671.73 391.59 678.28 391.3 679.36 384.73 C688.58 328.57 684.03 274.36 692.24 239.16 C694.34 238.5 697.46 264 705.12 274.23 C707.76 277.76 716.13 269.5 718 273.57 C726.43 291.87 724.83 325.94 730.88 330.14 C735.13 333.09 737.54 306.45 743.76 291.43 C747.84 281.57 753.09 264.39 756.64 267.94 C763.39 274.71 763.8 297.69 769.52 317.24 C774.1 332.89 777.8 357.78 782.4 355.95 C788.11 353.67 790.84 304.13 795.28 306.98 C801.14 310.75 799.55 351.48 808.16 372.49 C809.86 376.62 818.5 373.86 821.04 369.84 C828.8 357.58 826.23 341.76 833.92 331.8 C836.54 328.4 844.12 332.12 846.8 336.43 C854.42 348.66 851.99 363.07 859.68 373.15 C862.29 376.57 869.41 373.85 872.56 370.17 C879.71 361.81 881.05 341.13 885.44 343.04 C891.36 345.63 891.24 367.24 898.32 381.42 C901.55 387.89 907.85 397.62 911.2 394.65 C918.15 388.49 917.25 364.3 924.08 358.59 C927.55 355.7 932.79 366.66 936.96 373.15 C943.09 382.68 944.84 399.01 949.84 398.62 C955.15 398.21 958.36 382.46 962.72 371.16 C968.67 355.73 969.6 347.2 975.6 331.8 C979.91 320.74 985.09 300.73 988.48 305 C995.39 313.7 993.56 341.87 1001.36 364.22 C1003.86 371.38 1009.77 380.04 1014.24 378.77 C1020.07 377.13 1024.2 352.29 1027.12 356.94 C1034.51 368.7 1034.85 394.65 1040 419.8" fill="none" stroke="#f66a28" stroke-width="2.3"/>
</svg>
</body></html>
